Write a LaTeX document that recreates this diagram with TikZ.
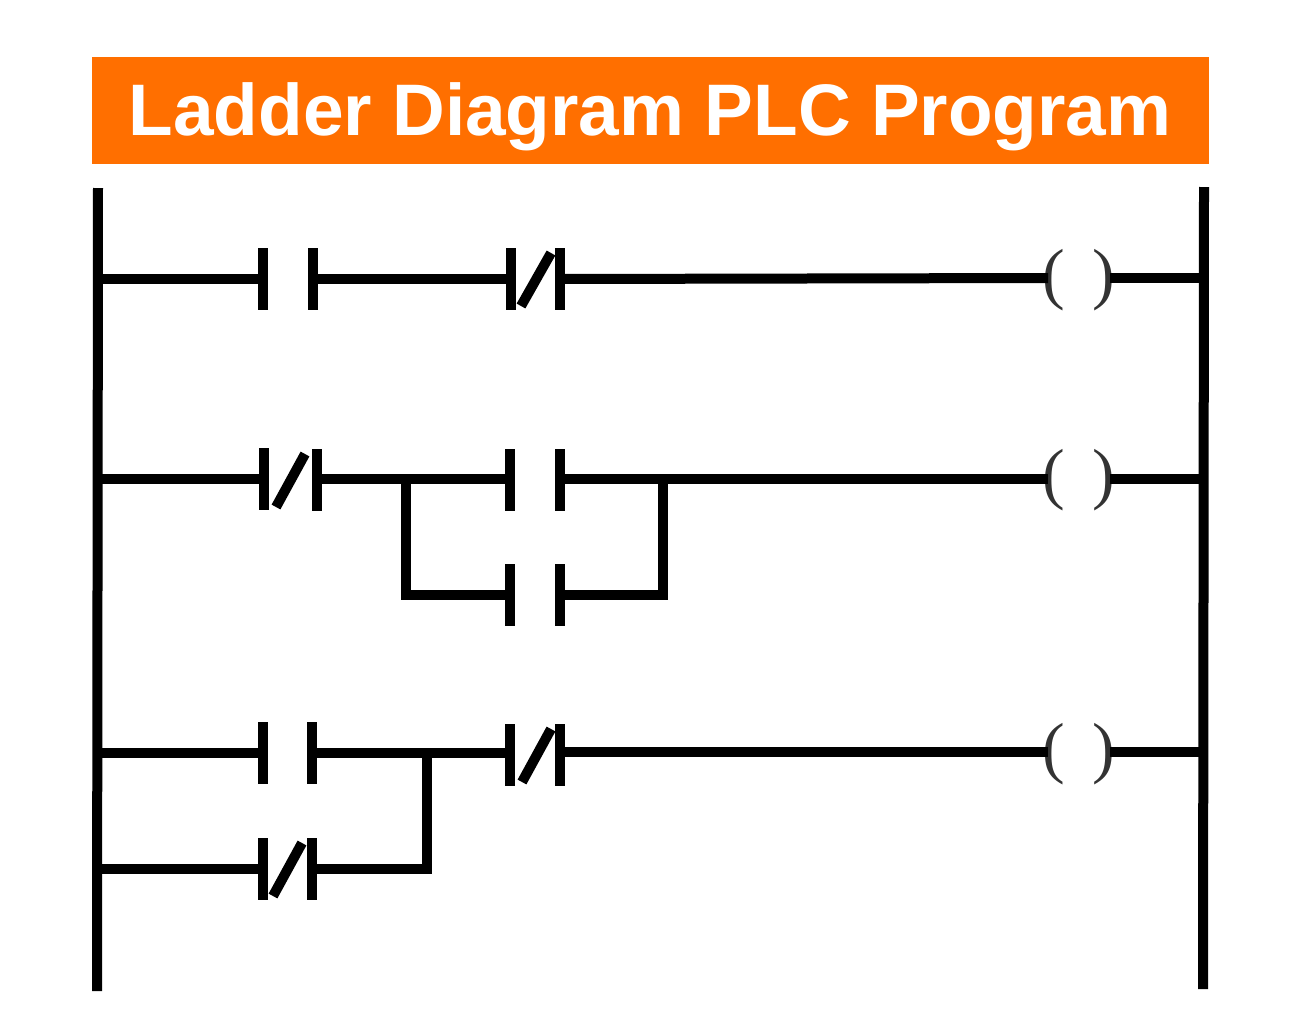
\documentclass[tikz,border=0pt]{standalone}
\usepackage{fontspec}
\setmainfont{Liberation Sans}
\newfontfamily\coilfont{Liberation Serif}
\definecolor{titlebg}{HTML}{FF6F00}
\definecolor{coilgray}{HTML}{333333}
\tikzset{
  wire/.style={line width=10pt,line cap=butt,line join=miter,black},
  slashline/.style={line width=10pt,line cap=butt,black},
  contactbar/.style={draw=none,fill=black,minimum width=10pt,minimum height=62pt,inner sep=0pt,outer sep=0pt},
  coil/.style={inner sep=0pt,outer sep=0pt,text=coilgray,font=\coilfont\fontsize{68}{72}\selectfont,anchor=base},
  titlebox/.style={fill=titlebg,draw=none,inner sep=0pt,outer sep=0pt,minimum width=1117pt,minimum height=107pt},
  titletext/.style={text=white,inner sep=0pt,anchor=base,font=\bfseries\fontsize{73}{80}\selectfont}
}
\begin{document}
\begin{tikzpicture}[x=1pt,y=-1pt]
\useasboundingbox (0,0) rectangle (1300,1031);
\node[titlebox] (title) at (650.5,110.5) {};
\node[titletext] (titlelabel) at (650,135) {Ladder Diagram PLC Program};
% rails
\coordinate (LT) at (98,188); \coordinate (LB) at (97,991);
\coordinate (RT) at (1204,187); \coordinate (RB) at (1203,989);
\draw[wire] (LT) -- (LB);
\draw[wire] (RT) -- (RB);
% rung 1
\node[contactbar] (a1) at (263,279) {};
\node[contactbar] (a2) at (313,279) {};
\node[contactbar] (b1) at (511,279) {};
\node[contactbar] (b2) at (560,279) {};
\node[coil] (c1) at (1079,296) {(\hspace{11pt} )};
\coordinate (c1L) at (1048,278); \coordinate (c1R) at (1110,278);
\coordinate (r1L) at (98,279); \coordinate (r1R) at (1204,278);
\draw[slashline] (551,253) -- (521,306);
\draw[wire] (r1L) -- (a1.center);
\draw[wire] (a2.center) -- (b1.center);
\draw[wire] (b2.center) -- (c1L);
\draw[wire] (c1R) -- (r1R);
% rung 2
\node[contactbar] (d1) at (264,479) {};
\node[contactbar] (d2) at (317,480) {};
\node[contactbar] (e1) at (510,480) {};
\node[contactbar] (e2) at (560,480) {};
\node[contactbar] (f1) at (510,595) {};
\node[contactbar] (f2) at (560,595) {};
\node[coil] (c2) at (1079,496.5) {(\hspace{11pt} )};
\coordinate (c2L) at (1048,479); \coordinate (c2R) at (1110,479);
\coordinate (r2L) at (98,479); \coordinate (r2R) at (1204,479);
\coordinate (j1) at (406,479); \coordinate (j2) at (663,479);
\draw[slashline] (305,454) -- (276,507);
\draw[wire] (r2L) -- (d1.center);
\draw[wire] (d2.center |- j1) -- (e1.center |- j1);
\draw[wire] (e2.center |- j1) -- (c2L);
\draw[wire] (c2R) -- (r2R);
\draw[wire] (j1) -- (j1 |- f1.center) -- (f1.center);
\draw[wire] (j2) -- (j2 |- f2.center) -- (f2.center);
% rung 3
\node[contactbar] (g1) at (263,753) {};
\node[contactbar] (g2) at (312,753) {};
\node[contactbar] (h1) at (510,755) {};
\node[contactbar] (h2) at (560,755) {};
\node[contactbar] (k1) at (263,869) {};
\node[contactbar] (k2) at (312,869) {};
\node[coil] (c3) at (1079,770) {(\hspace{11pt} )};
\coordinate (c3L) at (1048,752); \coordinate (c3R) at (1110,752);
\coordinate (r3L) at (98,753); \coordinate (r3R) at (1204,752);
\coordinate (r4L) at (98,869);
\coordinate (j3) at (427,753);
\draw[slashline] (551,729) -- (522,782);
\draw[slashline] (302,843) -- (273,896);
\draw[wire] (r3L) -- (g1.center);
\draw[wire] (g2.center) -- (h1.center |- g2.center);
\draw[wire] (h2.center |- c3L) -- (c3L);
\draw[wire] (c3R) -- (r3R);
\draw[wire] (r4L) -- (k1.center);
\draw[wire] (k2.center) -- (j3 |- k2.center) -- (j3);
\end{tikzpicture}
\end{document}
